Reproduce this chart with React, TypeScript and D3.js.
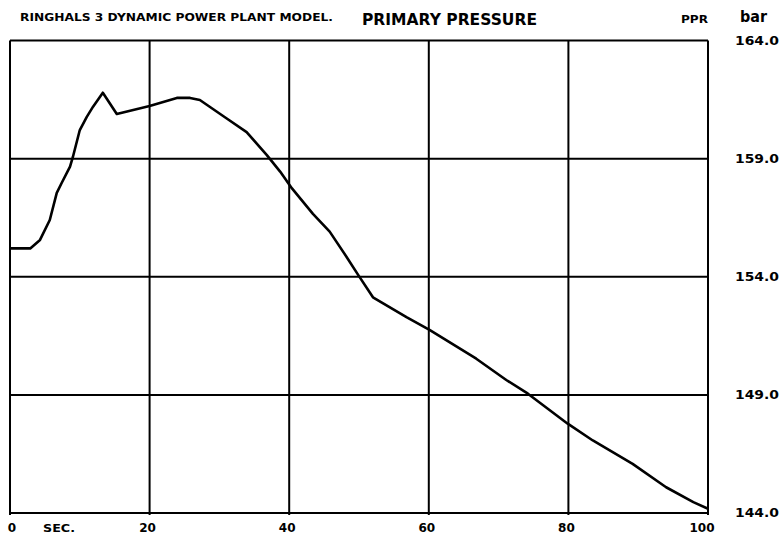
import React from "react";
import * as d3 from "d3";

const timeSec: number[] = [0, 2.9, 4.3, 5.7, 6.7, 7.4, 8.6, 9.0, 10.0, 11.0, 11.9, 13.3, 15.3, 20.0, 23.9, 25.8, 27.2, 31.0, 33.9, 36.8, 38.7, 40.4, 43.4, 45.8, 48.2, 49.9, 52.0, 56.8, 60.1, 66.8, 71.1, 74.2, 79.9, 83.5, 89.2, 94.0, 97.9, 100];
const pressureBar: number[] = [155.2, 155.2, 155.56, 156.4, 157.55, 157.97, 158.66, 159.06, 160.21, 160.77, 161.2, 161.79, 160.89, 161.23, 161.57, 161.57, 161.48, 160.71, 160.12, 159.15, 158.45, 157.74, 156.66, 155.91, 154.85, 154.07, 153.13, 152.29, 151.75, 150.53, 149.63, 149.05, 147.78, 147.07, 146.08, 145.09, 144.46, 144.18];
const xTicks: number[] = [0, 20, 40, 60, 80, 100];
const yTicks: number[] = [144, 149, 154, 159, 164];
const titleLeft = "RINGHALS 3 DYNAMIC POWER PLANT MODEL.";
const titleMain = "PRIMARY PRESSURE";
const varCode = "PPR";
const unit = "bar";
const xUnit = "SEC.";

export default function App() {
  const W = 784, H = 536;
  const x = d3.scaleLinear().domain([0, 100]).range([10, 708]);
  const y = d3.scaleLinear().domain([144, 164]).range([513, 40.5]);
  const line = d3.line<number>().x((_, i) => x(timeSec[i])).y((d) => y(d)).curve(d3.curveLinear);
  const font = "'DejaVu Sans', sans-serif";
  return (
    <svg width={W} height={H} style={{ position: "absolute", left: 0, top: 0, background: "#fff" }}>
      <rect x={0} y={0} width={W} height={H} fill="#fff" />
      {/* grid */}
      {xTicks.map((t) => (
        <line key={"vx" + t} x1={x(t)} x2={x(t)} y1={y(164)} y2={y(144) + 2} stroke="#000" strokeWidth={2} />
      ))}
      {yTicks.map((t) => (
        <line key={"hy" + t} x1={x(0)} x2={x(100)} y1={y(t)} y2={y(t)} stroke="#000" strokeWidth={2} />
      ))}
      <path d={line(pressureBar) || ""} fill="none" stroke="#000" strokeWidth={2.6} strokeLinejoin="round" />
      {/* titles */}
      <text x={20} y={21} fontFamily={font} fontWeight="bold" fontSize={10} textLength={313} lengthAdjust="spacingAndGlyphs">{titleLeft}</text>
      <text x={362} y={25} fontFamily={font} fontWeight="bold" fontSize={15} textLength={175} lengthAdjust="spacingAndGlyphs">{titleMain}</text>
      <text x={681} y={23} fontFamily={font} fontWeight="bold" fontSize={10} textLength={27} lengthAdjust="spacingAndGlyphs">{varCode}</text>
      <text x={740} y={22} fontFamily={font} fontWeight="bold" fontSize={15} textLength={27} lengthAdjust="spacingAndGlyphs">{unit}</text>
      {/* y labels */}
      {yTicks.map((t) => (
        <text key={"yl" + t} x={735} y={y(t) + (t === 164 ? 0 : 0)} dy="0.36em" fontFamily={font} fontWeight="bold" fontSize={12} textLength={44} lengthAdjust="spacingAndGlyphs">{t.toFixed(1)}</text>
      ))}
      {/* x labels */}
      {xTicks.map((t) => (
        <text key={"xl" + t} x={x(t) + (t === 0 ? 2 : t === 100 ? -6 : -2)} y={532} textAnchor="middle" fontFamily={font} fontWeight="bold" fontSize={12}>{t}</text>
      ))}
      <text x={43} y={532} fontFamily={font} fontWeight="bold" fontSize={11} textLength={32} lengthAdjust="spacingAndGlyphs">{xUnit}</text>
    </svg>
  );
}
